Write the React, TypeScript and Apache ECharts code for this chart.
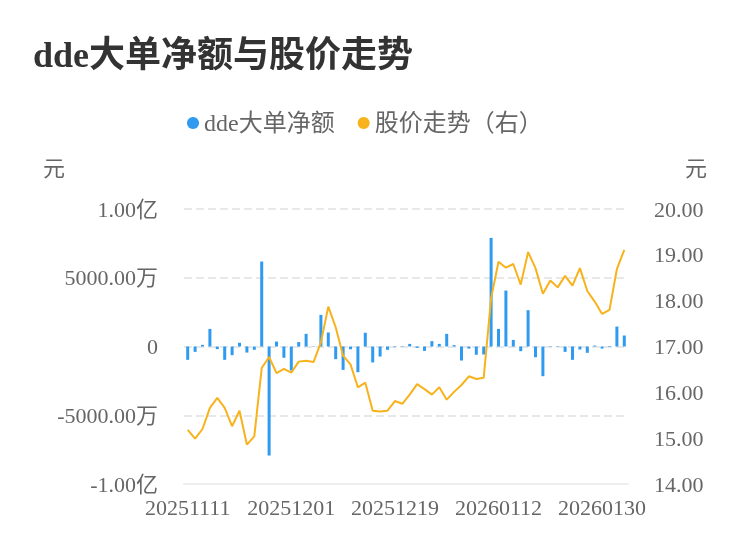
import React, { useEffect, useRef } from "react";
import * as echarts from "echarts";

const dates: string[] = [
  "20251111", "20251112", "20251113", "20251114", "20251117", "20251118", "20251119", "20251120", "20251121", "20251124",
  "20251125", "20251126", "20251127", "20251128", "20251201", "20251202", "20251203", "20251204", "20251205", "20251208",
  "20251209", "20251210", "20251211", "20251212", "20251215", "20251216", "20251217", "20251218", "20251219", "20251222",
  "20251223", "20251224", "20251225", "20251226", "20251229", "20251230", "20251231", "20260105", "20260106", "20260107",
  "20260108", "20260109", "20260112", "20260113", "20260114", "20260115", "20260116", "20260119", "20260120", "20260121",
  "20260122", "20260123", "20260126", "20260127", "20260128", "20260129", "20260130", "20260202", "20260203", "20260204",
];

// dde large-order net amount, in millions of yuan
const ddeMillions: number[] = [
  -9.7, -3.9, 1.2, 12.8, -1.9, -9.7, -6.3, 2.7, -4.4, -2.4,
  61.8, -79.3, 3.6, -8.2, -17.5, 3.2, 9.2, 0.3, 23, 10.2,
  -9.2, -17, -2, -18.7, 10, -11.6, -7.3, -2.4, -0.5, 0.3,
  1.9, -1, -3.2, 3.9, 1.9, 9.2, 1, -10.2, -1.5, -6,
  -5.8, 79, 12.8, 40.7, 4.8, -3.4, 26.4, -7.8, -21.6, -0.3,
  -0.3, -3.9, -9.7, -2.2, -4.6, 0.7, -1.5, -0.4, 14.5, 8,
];

const prices: number[] = [
  15.18, 14.99, 15.2, 15.66, 15.88, 15.66, 15.26, 15.6, 14.86, 15.04,
  16.53, 16.77, 16.42, 16.51, 16.43, 16.67, 16.69, 16.66, 17.09, 17.87,
  17.42, 16.8, 16.61, 16.11, 16.21, 15.6, 15.58, 15.6, 15.81, 15.75,
  15.95, 16.18, 16.07, 15.95, 16.11, 15.84, 16.01, 16.16, 16.35, 16.29,
  16.32, 18.05, 18.85, 18.72, 18.8, 18.35, 19.06, 18.71, 18.15, 18.44,
  18.29, 18.54, 18.33, 18.71, 18.21, 17.98, 17.71, 17.8, 18.69, 19.11,
];

const seriesNames = ["dde大单净额", "股价走势（右）"];
const titleText = "dde大单净额与股价走势";
const unitLabel = "元";

const FONT = "'Liberation Serif', 'Noto Sans CJK SC', serif";

function fmtLeft(v: number): string {
  if (v === 0) return "0";
  const a = Math.abs(v);
  if (a >= 1e8) return (v / 1e8).toFixed(2) + "亿";
  if (a >= 1e4) return (v / 1e4).toFixed(2) + "万";
  return v.toFixed(2);
}

export default function App() {
  const ref = useRef<HTMLDivElement>(null);
  useEffect(() => {
    if (!ref.current) return;
    const chart = echarts.init(ref.current, null, { renderer: "svg" });
    const ddeValues = ddeMillions.map((m) => m * 1e6);
    chart.setOption({
      animation: false,
      textStyle: { fontFamily: FONT },
      title: {
        text: titleText,
        left: 33,
        top: 37,
        padding: 0,
        textStyle: { fontSize: 36, fontWeight: "bold", color: "#333", fontFamily: FONT },
      },
      legend: {
        left: 187,
        top: 111,
        padding: 0,
        itemGap: 23,
        itemWidth: 12,
        itemHeight: 12,
        icon: "circle",
        textStyle: { fontSize: 24, color: "#666", fontFamily: FONT },
        data: seriesNames,
      },
      graphic: [
        { type: "text", left: 43, top: 157, style: { text: unitLabel, fontSize: 22, fill: "#666", fontFamily: FONT } },
        { type: "text", left: 685, top: 157, style: { text: unitLabel, fontSize: 22, fill: "#666", fontFamily: FONT } },
      ],
      grid: { left: 184, right: 122, top: 209, bottom: 74 },
      xAxis: {
        type: "category",
        data: dates,
        boundaryGap: true,
        axisLine: { onZero: false, lineStyle: { color: "#eeeeee", width: 2 } },
        axisTick: { show: false },
        axisLabel: { interval: 13, fontSize: 22, color: "#666", margin: 12, fontFamily: FONT },
      },
      yAxis: [
        {
          type: "value",
          min: -1e8,
          max: 1e8,
          interval: 5e7,
          axisLine: { show: false },
          axisTick: { show: false },
          axisLabel: { fontSize: 22, color: "#666", margin: 26, formatter: fmtLeft, fontFamily: FONT },
          splitLine: { lineStyle: { color: "#e8e8e8", width: 2, type: "dashed" } },
        },
        {
          type: "value",
          min: 14,
          max: 20,
          interval: 1,
          position: "right",
          axisLine: { show: false },
          axisTick: { show: false },
          axisLabel: { fontSize: 22, color: "#666", margin: 26, formatter: (v: number) => v.toFixed(2), fontFamily: FONT },
          splitLine: { show: false },
        },
      ],
      series: [
        {
          name: seriesNames[0],
          type: "bar",
          data: ddeValues,
          yAxisIndex: 0,
          barWidth: 3,
          itemStyle: { color: "#2E9BF0" },
        },
        {
          name: seriesNames[1],
          type: "line",
          data: prices,
          yAxisIndex: 1,
          symbol: "none",
          lineStyle: { color: "#F8B21C", width: 2 },
          itemStyle: { color: "#F8B21C" },
        },
      ],
    });
    return () => chart.dispose();
  }, []);
  return <div ref={ref} style={{ position: "fixed", left: 0, top: 0, width: 750, height: 558 }} />;
}
